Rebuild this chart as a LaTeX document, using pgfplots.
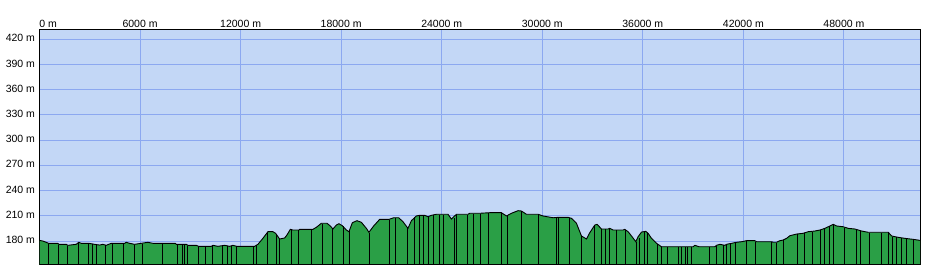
\documentclass[border=0pt]{standalone}
\usepackage{pgfplots}
\pgfplotsset{compat=1.18}
\usepackage{pgfplotstable}
\usepackage{fontspec}
\setmainfont{Liberation Sans}
\definecolor{sky}{RGB}{195,215,246}
\definecolor{gridblue}{RGB}{140,168,240}
\definecolor{terrain}{RGB}{42,159,70}

\pgfplotstableread{
d e
0 180.8
197 180.0
400 178.5
537 177.3
1093 177.3
1152 176.1
1594 176.1
1690 174.9
2191 176.1
2346 178.5
2490 177.3
2943 177.3
3284 176.1
3582 175.2
3779 176.1
3982 174.9
4281 177.3
5075 177.3
5176 178.5
5373 177.3
5672 176.1
6071 177.3
6466 178.5
6764 177.3
8101 177.3
8161 176.1
8758 176.1
8854 174.9
9355 174.9
9492 173.7
10250 173.7
10346 174.9
10645 173.7
11045 174.9
11343 173.7
11540 174.9
11779 173.7
12836 173.7
13033 176.1
13331 183.2
13630 191.1
13928 191.1
14089 189.2
14328 182.4
14627 183.6
14764 187.1
14967 193.9
15122 193.1
15480 193.1
15522 193.9
16316 193.9
16519 196.3
16817 201.1
17152 201.1
17355 197.9
17510 194.3
17713 199.0
17868 200.6
18071 198.2
18310 193.1
18465 191.1
18668 201.8
18943 204.2
19206 202.3
19504 195.1
19659 190.4
19940 197.9
20298 205.8
20853 205.8
21134 207.7
21432 207.7
21689 203.0
21988 195.1
22191 204.2
22489 209.8
22686 210.6
22985 210.6
23182 208.9
23385 210.6
23683 211.8
24376 211.8
24579 206.2
24877 211.8
25570 211.8
25671 213.0
26268 213.0
26865 213.7
27563 213.7
27862 209.8
28160 213.0
28555 216.1
28757 215.7
29056 211.8
29749 211.8
30047 209.8
30644 207.7
30943 208.2
31540 208.2
31742 207.0
32041 201.1
32339 186.0
32638 182.4
32835 189.9
33134 199.0
33272 199.9
33534 194.3
33928 194.3
34029 195.1
34226 193.1
34823 193.1
34925 193.9
35122 191.1
35325 186.0
35581 179.2
35719 185.1
35922 190.7
36178 191.5
36316 189.2
36519 183.2
36817 177.3
37115 173.2
39002 173.2
39104 174.9
39360 173.2
40298 173.2
40399 174.9
40596 176.1
40895 174.9
40996 176.1
41295 177.3
41593 178.5
41891 179.2
42190 180.4
42686 180.4
42787 179.2
43683 179.2
43781 178.5
43982 178.5
44178 180.4
44376 181.2
44578 183.2
44775 186.3
45175 188.3
45569 189.2
45868 191.1
46268 191.9
46566 193.1
46865 195.1
47163 197.9
47360 199.9
47563 197.9
47957 197.0
48255 195.1
48656 194.3
49055 191.9
49450 190.4
50644 190.4
50847 186.0
51241 184.4
51641 183.2
52136 182.0
52540 180.8
}\profile

\pgfplotstableread{
d e
537 176.8
1152 175.6
1690 174.4
2346 178.0
2943 176.8
3164 176.2
3421 175.4
3940 174.7
4340 176.8
5015 176.8
5672 175.6
6131 176.8
7361 176.8
8257 175.6
8519 175.6
8674 175.6
8854 174.4
9492 173.2
9892 173.2
10346 174.4
10943 174.1
11206 173.5
11480 174.0
11743 173.9
12776 173.2
12973 175.1
13612 190.6
14131 188.5
14328 181.9
15026 193.1
15480 192.6
16220 193.4
16877 200.6
17510 193.8
18107 197.4
18507 191.4
19659 189.9
20853 205.3
21253 207.2
21928 196.7
22388 208.1
22686 210.1
22925 210.1
23223 209.5
23480 210.4
23880 211.3
24119 211.3
24776 206.9
24877 211.3
25510 211.3
25910 212.5
26328 212.5
26764 213.1
27563 213.2
27898 209.8
28757 215.2
29749 211.3
30847 207.5
30943 207.7
31600 207.1
32339 185.5
33134 198.5
33534 193.8
33790 193.8
34029 194.6
34429 192.6
34966 193.1
35623 179.3
35778 183.7
36119 190.8
36256 189.6
36853 176.5
37115 172.7
37450 172.7
38107 172.7
38310 172.7
38566 172.7
38644 172.7
38906 172.7
39957 172.7
40399 174.4
40835 174.7
40996 175.6
41235 176.5
41551 177.7
42190 179.9
42745 179.3
43683 178.7
43982 178.0
44418 181.0
45212 187.8
45672 189.0
46106 191.0
46608 192.6
46865 194.6
47163 197.4
47402 199.1
48059 195.6
48757 193.2
48997 191.4
49510 189.9
50250 189.9
50644 189.9
50906 185.2
51146 184.3
51445 183.7
51744 182.7
52143 181.6
}\combs

\begin{document}
\begin{tikzpicture}[x=1pt,y=1pt]
\path[use as bounding box] (0,0) rectangle (930,275);
\begin{axis}[
  at={(39.5pt,10pt)}, anchor=south west,
  scale only axis, width=880.5pt, height=235pt,
  xmin=0, xmax=52540, ymin=151.5, ymax=431,
  axis background/.style={fill=sky},
  axis line style={black, line width=1pt},
  grid=major, major grid style={gridblue, line width=0.9pt},
  major tick length=0pt,
  xtick={0,6000,12000,18000,24000,30000,36000,42000,48000},
  xticklabels={\makebox[0pt][l]{0 m},6000 m,12000 m,18000 m,24000 m,30000 m,36000 m,42000 m,48000 m},
  xticklabel pos=top,
  xticklabel style={font=\fontsize{10.5}{12}\selectfont, anchor=south, yshift=-1pt},
  ytick={180,210,240,270,300,330,360,390,420},
  yticklabels={180 m,210 m,240 m,270 m,300 m,330 m,360 m,390 m,420 m},
  yticklabel style={font=\fontsize{10.5}{12}\selectfont, anchor=east, xshift=-1pt, yshift=1pt},
  scaled x ticks=false,
]
\addplot[fill=terrain, draw=none] table[x=d,y=e] {\profile} \closedcycle;
\addplot[ycomb, black, line width=0.9pt] table[x=d,y=e] {\combs};
\addplot[black, line width=0.9pt] table[x=d,y=e] {\profile};
\draw[black, line width=1pt] (rel axis cs:0,0) rectangle (rel axis cs:1,1);
\end{axis}
\end{tikzpicture}
\end{document}
